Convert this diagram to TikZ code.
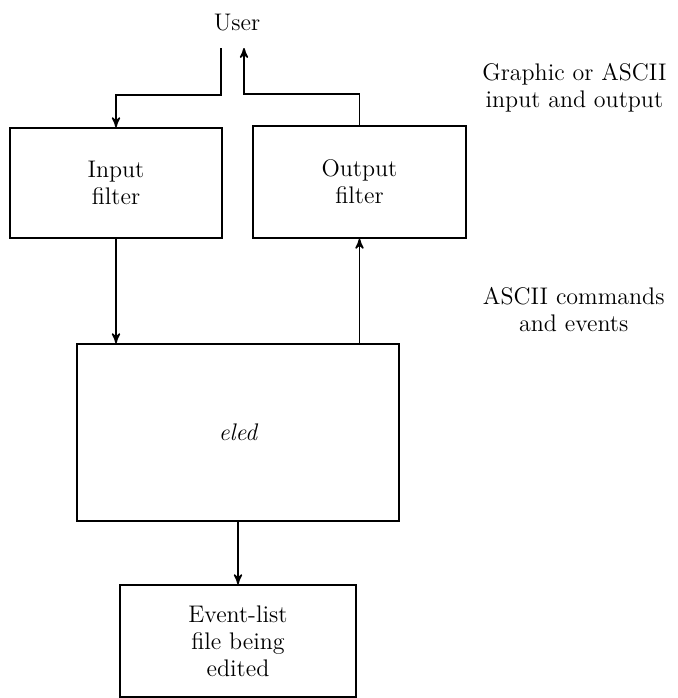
\documentclass[tikz,border=0pt]{standalone}
\usepackage{tikz}
\usetikzlibrary{arrows,positioning}

\begin{document}
\begin{tikzpicture}[x=0.5pt, y=-0.5pt, line width=0.8pt, >=stealth',
		every node/.style={font=\fontsize{12}{13.5}\selectfont, align=center},
		box/.style={draw, inner sep=0pt}]
		\useasboundingbox (0,0) rectangle (677,698);
		\node (user) at (237,23) {User};
		\coordinate (uin) at (221,48);
		\coordinate (uout) at (244,48);
		\node (inp) [box, minimum width=106pt, minimum height=55pt] at (116,183) {Input\\filter};
		\node (outp) [box, minimum width=106.5pt, minimum height=56pt] at (359.5,182) {Output\\filter};
		\node (eled) [box, minimum width=161pt, minimum height=88.5pt] at (238,432.5) {\itshape eled};
		\node (file) [box, minimum width=118pt, minimum height=56pt] at (238,641) {Event-list\\file being\\edited};
		\node (io) [anchor=east] at (674,88) {Graphic or ASCII\\input and output};
		\node (cmd) [anchor=east] at (672,310) {ASCII commands\\and events};
		% user side
		\draw[->] (uin) -- ++(0,47) -| (inp.north);
		\draw[->] (outp.north) -- ++(0,-31) -| (uout);
		% to and from eled
		\draw[->] (inp.south) -- (inp.south |- eled.north);
		\draw[->] (outp.south |- eled.north) -- (outp.south);
		\draw[->] (eled.south) -- (file.north);
	\end{tikzpicture}
\end{document}
